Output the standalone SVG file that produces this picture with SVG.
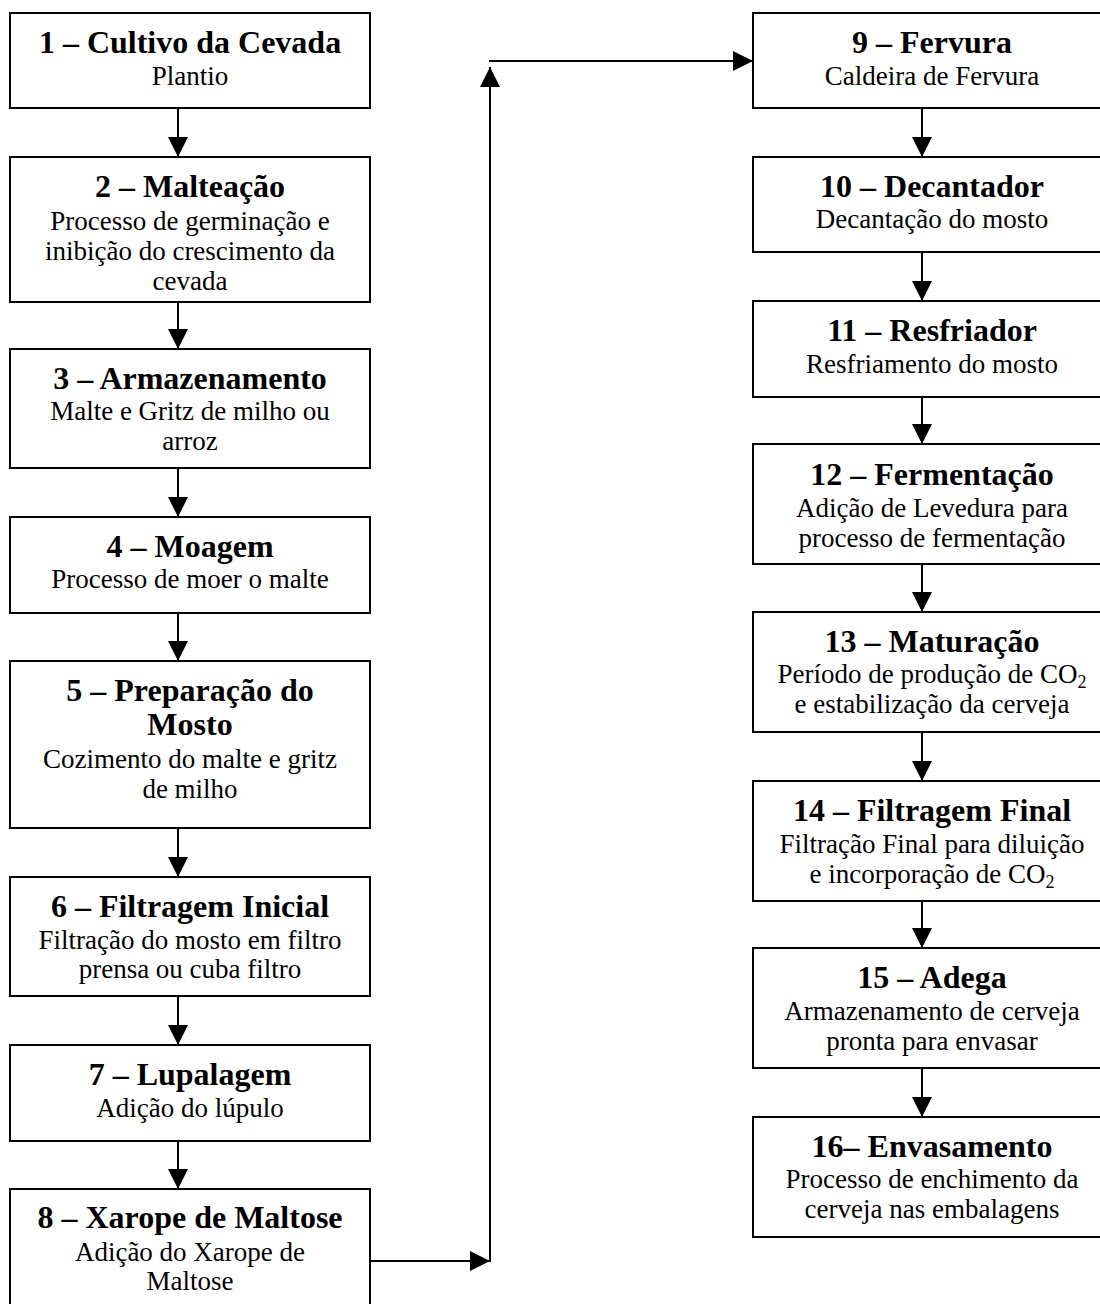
<svg xmlns="http://www.w3.org/2000/svg" width="1100" height="1304" viewBox="0 0 1100 1304">
  <style>
    .box { fill: #ffffff; stroke: #000000; stroke-width: 2; }
    .t { font-family: "Liberation Serif", "Times New Roman", serif; font-size: 32px; font-weight: bold; text-anchor: middle; fill: #000; }
    .d { font-family: "Liberation Serif", "Times New Roman", serif; font-size: 27px; text-anchor: middle; fill: #000; }
    .sub { font-size: 18px; }
    .link { fill: none; stroke: #000000; stroke-width: 2; marker-end: url(#head); }
  </style>
  <defs>
    <marker id="head" viewBox="0 0 20 20" refX="20" refY="10" markerWidth="20" markerHeight="20" markerUnits="userSpaceOnUse" orient="auto">
      <path d="M0,0 L20,10 L0,20 Z" fill="#000000"/>
    </marker>
  </defs>
  <rect width="1100" height="1304" fill="#ffffff"/>

  <!-- left column: steps 1-8 -->
  <g id="n1">
    <rect class="box" x="10" y="13" width="360" height="95"/>
    <text class="t" x="190" y="53">1 – Cultivo da Cevada</text>
    <text class="d" x="190" y="85">Plantio</text>
  </g>
  <g id="n2">
    <rect class="box" x="10" y="157" width="360" height="145"/>
    <text class="t" x="190" y="197">2 – Malteação</text>
    <text class="d" x="190" y="230">Processo de germinação e</text>
    <text class="d" x="190" y="260">inibição do crescimento da</text>
    <text class="d" x="190" y="290">cevada</text>
  </g>
  <g id="n3">
    <rect class="box" x="10" y="349" width="360" height="119"/>
    <text class="t" x="190" y="389">3 – Armazenamento</text>
    <text class="d" x="190" y="420">Malte e Gritz de milho ou</text>
    <text class="d" x="190" y="450">arroz</text>
  </g>
  <g id="n4">
    <rect class="box" x="10" y="517" width="360" height="96"/>
    <text class="t" x="190" y="557">4 – Moagem</text>
    <text class="d" x="190" y="588">Processo de moer o malte</text>
  </g>
  <g id="n5">
    <rect class="box" x="10" y="661" width="360" height="167"/>
    <text class="t" x="190" y="701">5 – Preparação do</text>
    <text class="t" x="190" y="735">Mosto</text>
    <text class="d" x="190" y="768">Cozimento do malte e gritz</text>
    <text class="d" x="190" y="798">de milho</text>
  </g>
  <g id="n6">
    <rect class="box" x="10" y="877" width="360" height="119"/>
    <text class="t" x="190" y="917">6 – Filtragem Inicial</text>
    <text class="d" x="190" y="949">Filtração do mosto em filtro</text>
    <text class="d" x="190" y="978">prensa ou cuba filtro</text>
  </g>
  <g id="n7">
    <rect class="box" x="10" y="1045" width="360" height="96"/>
    <text class="t" x="190" y="1085">7 – Lupalagem</text>
    <text class="d" x="190" y="1117">Adição do lúpulo</text>
  </g>
  <g id="n8">
    <rect class="box" x="10" y="1189" width="360" height="140"/>
    <text class="t" x="190" y="1228">8 – Xarope de Maltose</text>
    <text class="d" x="190" y="1261">Adição do Xarope de</text>
    <text class="d" x="190" y="1290">Maltose</text>
  </g>

  <!-- right column: steps 9-16 -->
  <g id="n9">
    <rect class="box" x="753" y="13" width="358" height="95"/>
    <text class="t" x="932" y="53">9 – Fervura</text>
    <text class="d" x="932" y="85">Caldeira de Fervura</text>
  </g>
  <g id="n10">
    <rect class="box" x="753" y="157" width="358" height="95"/>
    <text class="t" x="932" y="197">10 – Decantador</text>
    <text class="d" x="932" y="228">Decantação do mosto</text>
  </g>
  <g id="n11">
    <rect class="box" x="753" y="301" width="358" height="96"/>
    <text class="t" x="932" y="341">11 – Resfriador</text>
    <text class="d" x="932" y="373">Resfriamento do mosto</text>
  </g>
  <g id="n12">
    <rect class="box" x="753" y="444" width="358" height="120"/>
    <text class="t" x="932" y="485">12 – Fermentação</text>
    <text class="d" x="932" y="517">Adição de Levedura para</text>
    <text class="d" x="932" y="547">processo de fermentação</text>
  </g>
  <g id="n13">
    <rect class="box" x="753" y="612" width="358" height="120"/>
    <text class="t" x="932" y="652">13 – Maturação</text>
    <text class="d" x="932" y="683">Período de produção de CO<tspan class="sub" dy="5">2</tspan></text>
    <text class="d" x="932" y="713">e estabilização da cerveja</text>
  </g>
  <g id="n14">
    <rect class="box" x="753" y="781" width="358" height="120"/>
    <text class="t" x="932" y="821">14 – Filtragem Final</text>
    <text class="d" x="932" y="853">Filtração Final para diluição</text>
    <text class="d" x="932" y="883">e incorporação de CO<tspan class="sub" dy="5">2</tspan></text>
  </g>
  <g id="n15">
    <rect class="box" x="753" y="948" width="358" height="120"/>
    <text class="t" x="932" y="988">15 – Adega</text>
    <text class="d" x="932" y="1020">Armazenamento de cerveja</text>
    <text class="d" x="932" y="1050">pronta para envasar</text>
  </g>
  <g id="n16">
    <rect class="box" x="753" y="1117" width="358" height="120"/>
    <text class="t" x="932" y="1157">16– Envasamento</text>
    <text class="d" x="932" y="1188">Processo de enchimento da</text>
    <text class="d" x="932" y="1218">cerveja nas embalagens</text>
  </g>

  <!-- connectors -->
  <g id="connectors">
    <path class="link" d="M178,108 V157"/>
    <path class="link" d="M178,302 V349"/>
    <path class="link" d="M178,468 V517"/>
    <path class="link" d="M178,613 V661"/>
    <path class="link" d="M178,828 V877"/>
    <path class="link" d="M178,996 V1045"/>
    <path class="link" d="M178,1141 V1189"/>
    <path class="link" d="M370,1261 H490"/>
    <path class="link" d="M490,1262 V67"/>
    <path class="link" d="M489,61 H753"/>
    <path class="link" d="M922,108 V157"/>
    <path class="link" d="M922,252 V301"/>
    <path class="link" d="M922,397 V444"/>
    <path class="link" d="M922,564 V612"/>
    <path class="link" d="M922,732 V781"/>
    <path class="link" d="M922,901 V948"/>
    <path class="link" d="M922,1068 V1117"/>
  </g>
</svg>
